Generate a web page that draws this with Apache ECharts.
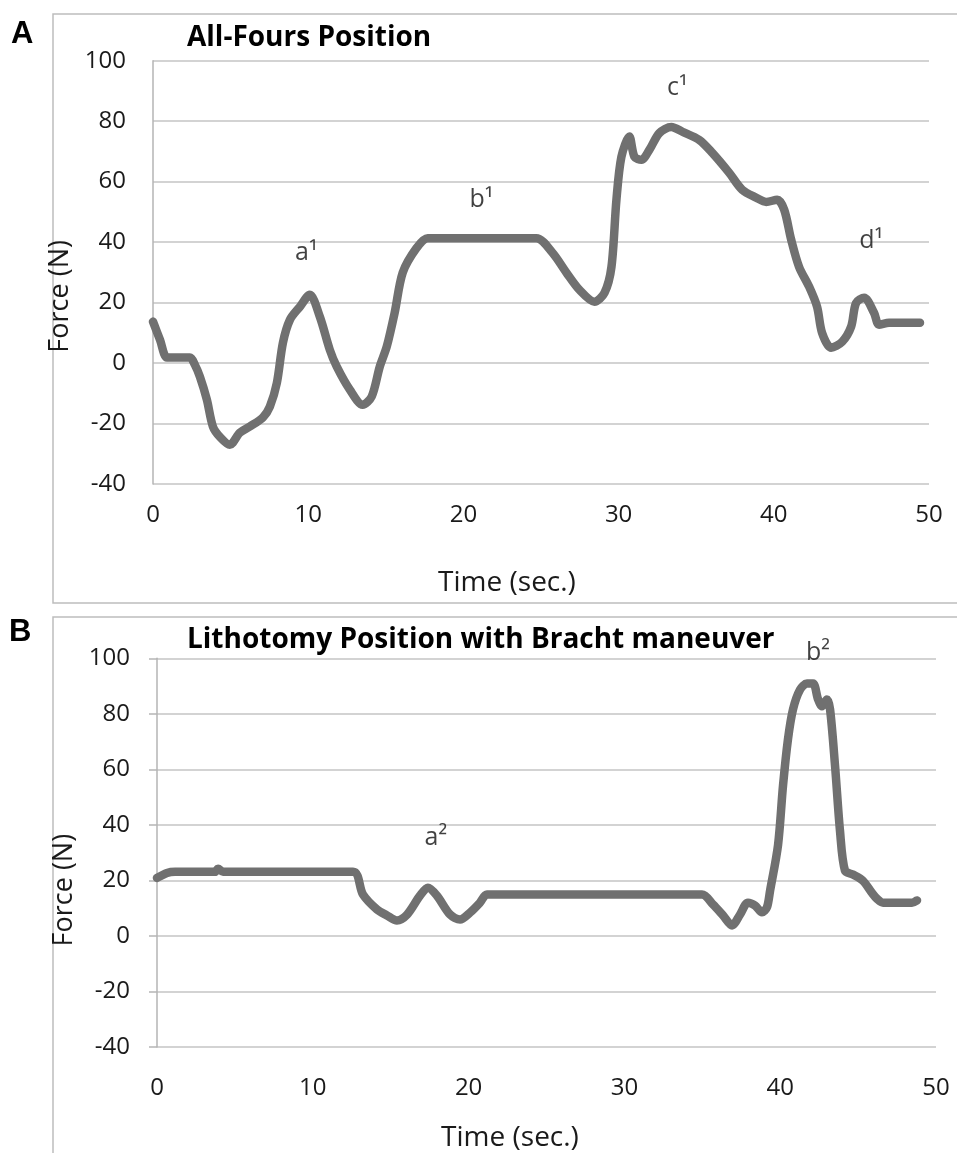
<!DOCTYPE html>
<html>
<head>
<meta charset="utf-8">
<script src="https://cdn.jsdelivr.net/npm/echarts@6/dist/echarts.min.js"></script>
<style>
  html, body { margin: 0; padding: 0; background: #fff; }
  #chart { width: 957px; height: 1153px; }
</style>
</head>
<body>
<div id="chart"></div>
<script>
// panel A: all-fours position
const timeA = [0, 0.45, 0.9, 1.42, 2.38, 2.7, 3.02, 3.47, 3.86, 4.31, 4.95, 5.6, 6.24, 7.08, 7.53, 7.98, 8.37, 8.82, 9.46, 10.1,
    10.75, 11.39, 11.84, 12.68, 13.51, 14.09, 14.61, 15.06, 15.57, 16.09, 16.99, 17.7, 19.76, 22.3, 24.7, 25.74, 26.64, 27.48,
    28.44, 29.09, 29.54, 29.86, 30.18, 30.69, 31.02, 31.47, 31.98, 32.63, 33.4, 34.11, 35.2, 36.04, 37.13, 37.97, 38.87, 39.51,
    40.22, 40.67, 41.12, 41.63, 42.28, 42.79, 43.11, 43.69, 44.4, 44.98, 45.3, 45.82, 46.46, 46.78, 47.43, 49.42];
const forceA = [13.7, 7.7, 1.8, 1.8, 1.8, -0.6, -4.5, -12.1, -21, -24.4, -27, -23, -21, -18, -14.4, -6.6, 6.7, 14.3, 18.6, 22.6,
    15.3, 4.4, -1.2, -8.8, -13.8, -11.1, -1.2, 5.4, 16.6, 29.9, 38.1, 41.3, 41.3, 41.3, 41.3, 36.5, 29.9, 24.2,
    20.3, 23.2, 31.8, 54, 68.2, 74.9, 68.2, 67.2, 70.5, 76.1, 78.1, 76.5, 73.8, 69.5, 62.9, 57.3, 54.7, 53.3,
    54, 50.7, 40.8, 31.8, 25.2, 18.6, 10, 5.1, 7, 12, 19.9, 21.6, 16.6, 12.7, 13.3, 13.3];

// panel B: lithotomy position
const timeB = [0, 0.64, 1.16, 3.72, 3.92, 4.24, 12.58, 13.22, 14.12, 14.76, 15.4, 16.05, 16.88, 17.39, 17.97, 18.81, 19.45,
    20.09, 20.73, 21.18, 28.43, 34.98, 35.69, 36.33, 36.91, 37.42, 37.93, 38.38, 38.83, 39.15, 39.35, 39.86, 40.18, 40.5,
    40.82, 41.27, 41.72, 42.11, 42.43, 42.68, 43.0, 43.2, 43.52, 43.84, 44.16, 44.67, 45.31, 45.89, 46.21, 46.6, 48.46, 48.78];
const forceB = [20.9, 22.7, 23.1, 23.1, 24.2, 23.1, 23.1, 14.9, 9.5, 7.4, 5.6, 7.7, 14.5, 17.4, 14.5, 7.7, 5.9,
    8.4, 12, 14.9, 14.9, 14.9, 11.3, 7.4, 3.8, 7.7, 12, 11, 8.5, 10.3, 16.3, 32.7, 54.1, 70.9,
    81.6, 88.7, 90.9, 90.9, 85.2, 82.7, 85.2, 81.6, 61.3, 37.7, 23.5, 22.1, 19.9, 15.5, 13.4, 12, 12, 12.8];

// phase labels
const notesA = [['a¹', 9.88, 36.5], ['b¹', 21.17, 54], ['c¹', 33.78, 91], ['d¹', 46.28, 40.5]];
const notesB = [['a²', 17.9, 35.5], ['b²', 42.43, 102]];

const xTicks = { min: 0, max: 50, interval: 10 };
const yTicks = { min: -40, max: 100, interval: 20 };

const font = 'Open Sans';
const gridColor = '#c4c4c4';
const lineColor = '#707070';

const zip = (xs, ys) => xs.map((x, i) => [x, ys[i]]);

const xAxisOf = (gridIndex, margin, gap, shift) => ({
    type: 'value',
    gridIndex,
    ...xTicks,
    name: 'Time (sec.)',
    nameLocation: 'middle',
    nameGap: gap,
    nameTextStyle: { fontFamily: font, fontSize: 28, color: '#1a1a1a', padding: [0, shift, 0, 0] },
    axisLine: { show: false },
    axisTick: { show: false },
    splitLine: { show: false },
    axisLabel: { margin, fontFamily: font, fontSize: 24, color: '#1a1a1a' },
});

const yAxisOf = (gridIndex, tick, shift) => ({
    type: 'value',
    gridIndex,
    ...yTicks,
    name: 'Force (N)',
    nameLocation: 'middle',
    nameGap: 63,
    nameTextStyle: { fontFamily: font, fontSize: 27, color: '#1a1a1a', padding: [0, shift, 0, 0] },
    axisLine: { show: true, lineStyle: { color: '#b5b5b5', width: 1.5 } },
    axisTick: { show: tick, length: 8, lineStyle: { color: '#b5b5b5', width: 1.5 } },
    splitLine: { lineStyle: { color: gridColor, width: 1.5 } },
    axisLabel: { margin: 27, fontFamily: font, fontSize: 24, color: '#1a1a1a' },
});

const lineOf = (idx, xs, ys) => ({
    type: 'line',
    xAxisIndex: idx,
    yAxisIndex: idx,
    data: zip(xs, ys),
    showSymbol: false,
    smooth: 0.3,
    lineStyle: { color: lineColor, width: 8.5, cap: 'round', join: 'round' },
    silent: true,
});

const notesOf = (idx, notes) => ({
    type: 'scatter',
    xAxisIndex: idx,
    yAxisIndex: idx,
    clip: false,
    symbolSize: 1,
    itemStyle: { color: 'transparent' },
    data: notes.map(([name, x, y]) => ({ name, value: [x, y] })),
    label: {
        show: true,
        position: 'inside',
        formatter: '{b}',
        fontFamily: font,
        fontSize: 25,
        color: '#111',
    },
    silent: true,
});

const titleStyle = { fontFamily: font, fontSize: 28, fontWeight: 'bold', color: '#000' };
const letterStyle = { fontFamily: 'Liberation Sans', fontSize: 31, fontWeight: 'bold', color: '#000' };

const option = {
    animation: false,
    title: [
        { text: 'A', left: 11, top: 19, padding: 0, textStyle: letterStyle },
        { text: 'All-Fours Position', left: 187, top: 24, padding: 0, textStyle: titleStyle },
        { text: 'B', left: 9, top: 617, padding: 0, textStyle: letterStyle },
        { text: 'Lithotomy Position with Bracht maneuver', left: 187, top: 626, padding: 0, textStyle: titleStyle },
    ],
    graphic: [
        { type: 'rect', shape: { x: 53, y: 14, width: 930, height: 589 }, style: { fill: 'none', stroke: '#bdbdbd', lineWidth: 1.5 }, z: -1 },
        { type: 'rect', shape: { x: 53, y: 617, width: 930, height: 600 }, style: { fill: 'none', stroke: '#bdbdbd', lineWidth: 1.5 }, z: -1 },
    ],
    grid: [
        { left: 153, top: 60.7, width: 776, height: 423.3 },
        { left: 157, top: 658.3, width: 779, height: 392.4 },
    ],
    xAxis: [xAxisOf(0, 19, 85, 68), xAxisOf(1, 29, 77, 73)],
    yAxis: [yAxisOf(0, false, 48), yAxisOf(1, true, 75)],
    series: [
        lineOf(0, timeA, forceA),
        lineOf(1, timeB, forceB),
        notesOf(0, notesA),
        notesOf(1, notesB),
    ],
};

const chart = echarts.init(document.getElementById('chart'));
chart.setOption(option);
</script>
</body>
</html>
